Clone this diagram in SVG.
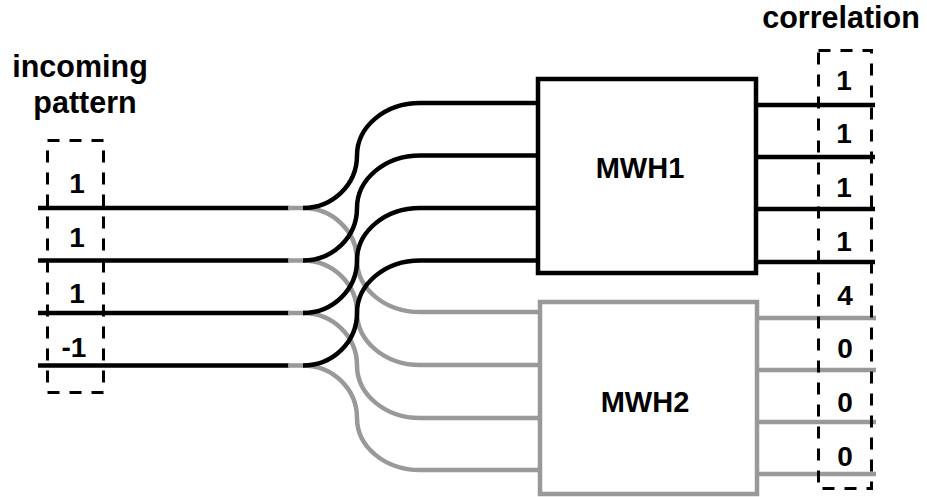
<svg xmlns="http://www.w3.org/2000/svg" width="927" height="497" viewBox="0 0 927 497">
  <style>
    .txt { font-family: "Liberation Sans", Arial, sans-serif; font-weight: bold; fill: #000; }
    .title { font-size: 30.5px; }
    .val { font-size: 28px; text-anchor: middle; }
    .blk { fill: none; stroke: #000; stroke-width: 4.5; }
    .gry { fill: none; stroke: #999; stroke-width: 4.5; }
    .dash { fill: none; stroke: #000; stroke-width: 3; stroke-dasharray: 12 10; }
  </style>
  <rect width="927" height="497" fill="#fff"/>

  <!-- connectors: inputs, fan-out curves, outputs -->
  <g id="connectors">
    <!-- incoming lines -->
    <path class="blk" d="M38,208 H289 M38,260.5 H289 M38,313 H289 M38,365.5 H289"/>
    <!-- gray branches down to MWH2 -->
    <path class="gry" d="M288,208 H303 C332.8,208 357,231.5 357,260 C357,289 385.2,312 420,312 H540"/>
    <path class="gry" d="M288,260.5 H303 C332.8,260.5 357,284 357,312.5 C357,341.5 385.2,365 420,365 H540"/>
    <path class="gry" d="M288,313 H303 C332.8,313 357,336.5 357,365.5 C357,394.5 385.2,418 420,418 H540"/>
    <path class="gry" d="M288,365.5 H303 C332.8,365.5 357,389 357,418 C357,447 385.2,470 420,470 H540"/>
    <!-- black branches up to MWH1 -->
    <path class="blk" d="M303,208 C332.8,208 357,184.5 357,155.5 C357,126.5 385.2,103 420,103 H538"/>
    <path class="blk" d="M303,260.5 C332.8,260.5 357,237 357,208 C357,179 385.2,155.5 420,155.5 H538"/>
    <path class="blk" d="M303,313 C332.8,313 357,289.5 357,260.5 C357,231.5 385.2,208 420,208 H538"/>
    <path class="blk" d="M303,365.5 C332.8,365.5 357,342 357,313 C357,284 385.2,260.5 420,260.5 H538"/>
    <!-- outputs -->
    <path class="blk" d="M756,105 H875 M756,157 H875 M756,209 H875 M756,262 H875"/>
    <path class="gry" d="M757,318 H876 M757,370 H876 M757,422 H876 M757,474 H876"/>
  </g>

  <!-- incoming pattern -->
  <g id="incoming">
    <text class="txt title" x="80" y="77" text-anchor="middle">incoming</text>
    <text class="txt title" x="85" y="113" text-anchor="middle">pattern</text>
    <rect class="dash" x="47.5" y="140.5" width="56" height="252"/>
    <text class="txt val" x="77" y="193">1</text>
    <text class="txt val" x="77" y="247">1</text>
    <text class="txt val" x="77" y="303">1</text>
    <text class="txt val" x="74" y="357">-1</text>
  </g>

  <!-- MWH1 -->
  <g id="mwh1">
    <rect class="blk" x="538" y="79" width="218" height="194" fill="#fff"/>
    <text class="txt" x="640" y="178" font-size="29" text-anchor="middle">MWH1</text>
  </g>

  <!-- MWH2 -->
  <g id="mwh2">
    <rect class="gry" x="540" y="302" width="217" height="192" fill="#fff"/>
    <text class="txt" x="645" y="411.5" font-size="29" text-anchor="middle">MWH2</text>
  </g>

  <!-- correlation -->
  <g id="correlation">
    <text class="txt title" x="841" y="28" text-anchor="middle">correlation</text>
    <rect class="dash" x="818.5" y="50.5" width="53" height="438"/>
    <text class="txt val" x="844" y="90">1</text>
    <text class="txt val" x="844" y="143">1</text>
    <text class="txt val" x="844" y="197">1</text>
    <text class="txt val" x="844" y="251">1</text>
    <text class="txt val" x="845" y="305">4</text>
    <text class="txt val" x="845" y="358">0</text>
    <text class="txt val" x="845" y="412">0</text>
    <text class="txt val" x="845" y="466">0</text>
  </g>
</svg>
